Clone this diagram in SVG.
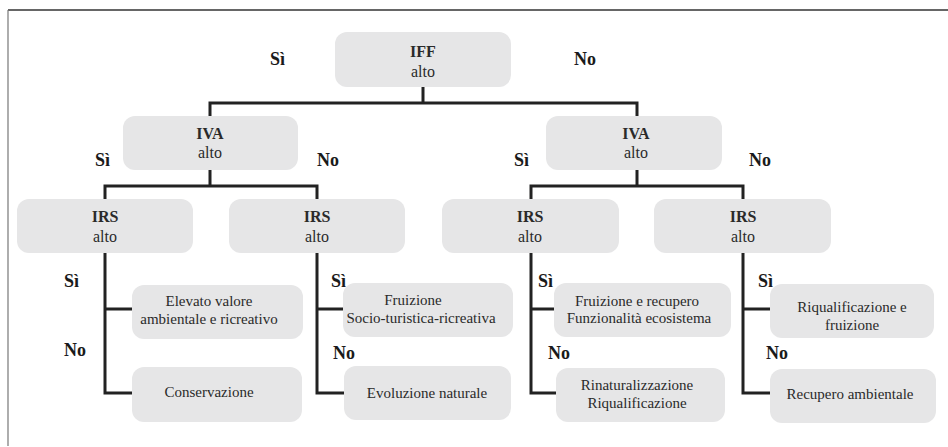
<svg xmlns="http://www.w3.org/2000/svg" width="948" height="447" viewBox="0 0 948 447">
<style>
text{font-family:'Liberation Serif','DejaVu Serif','Times New Roman',serif;}
.box{fill:#e6e6e7;}
.t{fill:#2a2a2a;text-anchor:middle;}
.h{font-size:16px;font-weight:bold;}
.a{font-size:16px;}
.l{font-size:15px;}
.y{fill:#1a1a1a;font-size:18px;font-weight:bold;}
.c{fill:none;stroke:#222;stroke-width:3;}
</style>
<rect width="948" height="447" fill="#fff"/>
<g id="frame">
<line x1="8" y1="10" x2="948" y2="10" stroke="#333" stroke-width="1.5"/>
<line x1="8" y1="10" x2="8" y2="446" stroke="#777" stroke-width="1.2"/>
</g>
<g id="connectors">
<path class="c" d="M423,87 V103 M210,117 V103 H637 V117"/>
<path class="c" d="M210,170 V186 M105,200 V186 H317 V200"/>
<path class="c" d="M637,170 V186 M531,200 V186 H743 V200"/>
<path class="c" d="M105,253 V393 H132 M105,309 H132"/>
<path class="c" d="M317,253 V393 H344 M317,309 H344"/>
<path class="c" d="M531,253 V393 H557 M531,309 H555"/>
<path class="c" d="M743,253 V393 H770 M743,309 H770"/>
</g>
<g id="labels">
<text class="y" x="270" y="65">Sì</text>
<text class="y" x="574" y="65">No</text>
<text class="y" x="95" y="166">Sì</text>
<text class="y" x="317" y="166">No</text>
<text class="y" x="514" y="166">Sì</text>
<text class="y" x="749" y="166">No</text>
<text class="y" x="64" y="287">Sì</text>
<text class="y" x="64" y="356">No</text>
<text class="y" x="331" y="287">Sì</text>
<text class="y" x="333" y="359">No</text>
<text class="y" x="538" y="287">Sì</text>
<text class="y" x="548" y="359">No</text>
<text class="y" x="758" y="287">Sì</text>
<text class="y" x="766" y="359">No</text>
</g>
<g id="iff">
<rect class="box" x="335" y="32" width="176" height="55" rx="12"/>
<text class="t h" x="423" y="57">IFF</text>
<text class="t a" x="423" y="77">alto</text>
</g>
<g id="iva-left">
<rect class="box" x="123" y="116" width="175" height="54" rx="12"/>
<text class="t h" x="210" y="139">IVA</text>
<text class="t a" x="210" y="158">alto</text>
</g>
<g id="iva-right">
<rect class="box" x="546" y="116" width="176" height="54" rx="12"/>
<text class="t h" x="636" y="139">IVA</text>
<text class="t a" x="636" y="158">alto</text>
</g>
<g id="irs-1">
<rect class="box" x="17" y="199" width="176" height="54" rx="12"/>
<text class="t h" x="105" y="222">IRS</text>
<text class="t a" x="105" y="242">alto</text>
</g>
<g id="irs-2">
<rect class="box" x="229" y="199" width="176" height="54" rx="12"/>
<text class="t h" x="317" y="222">IRS</text>
<text class="t a" x="317" y="242">alto</text>
</g>
<g id="irs-3">
<rect class="box" x="442" y="199" width="177" height="54" rx="12"/>
<text class="t h" x="530" y="222">IRS</text>
<text class="t a" x="530" y="242">alto</text>
</g>
<g id="irs-4">
<rect class="box" x="654" y="199" width="177" height="54" rx="12"/>
<text class="t h" x="743" y="222">IRS</text>
<text class="t a" x="743" y="242">alto</text>
</g>
<g id="leaf-1a">
<rect class="box" x="132" y="285" width="171" height="54" rx="12"/>
<text class="t l" x="209" y="306">Elevato valore</text>
<text class="t l" x="209" y="324">ambientale e ricreativo</text>
</g>
<g id="leaf-1b">
<rect class="box" x="132" y="367" width="170" height="55" rx="12"/>
<text class="t l" x="209" y="397">Conservazione</text>
</g>
<g id="leaf-2a">
<rect class="box" x="343" y="283" width="170" height="54" rx="12"/>
<text class="t l" x="413" y="305">Fruizione</text>
<text class="t l" x="421" y="323">Socio-turistica-ricreativa</text>
</g>
<g id="leaf-2b">
<rect class="box" x="344" y="366" width="167" height="54" rx="12"/>
<text class="t l" x="427" y="398">Evoluzione naturale</text>
</g>
<g id="leaf-3a">
<rect class="box" x="554" y="283" width="177" height="54" rx="12"/>
<text class="t l" x="637" y="306">Fruizione e recupero</text>
<text class="t l" x="639" y="323">Funzionalità ecosistema</text>
</g>
<g id="leaf-3b">
<rect class="box" x="556" y="368" width="169" height="54" rx="12"/>
<text class="t l" x="637" y="390">Rinaturalizzazione</text>
<text class="t l" x="637" y="408">Riqualificazione</text>
</g>
<g id="leaf-4a">
<rect class="box" x="770" y="284" width="164" height="54" rx="12"/>
<text class="t l" x="852" y="312">Riqualificazione e</text>
<text class="t l" x="852" y="330">fruizione</text>
</g>
<g id="leaf-4b">
<rect class="box" x="770" y="369" width="166" height="54" rx="12"/>
<text class="t l" x="850" y="399">Recupero ambientale</text>
</g>
</svg>
